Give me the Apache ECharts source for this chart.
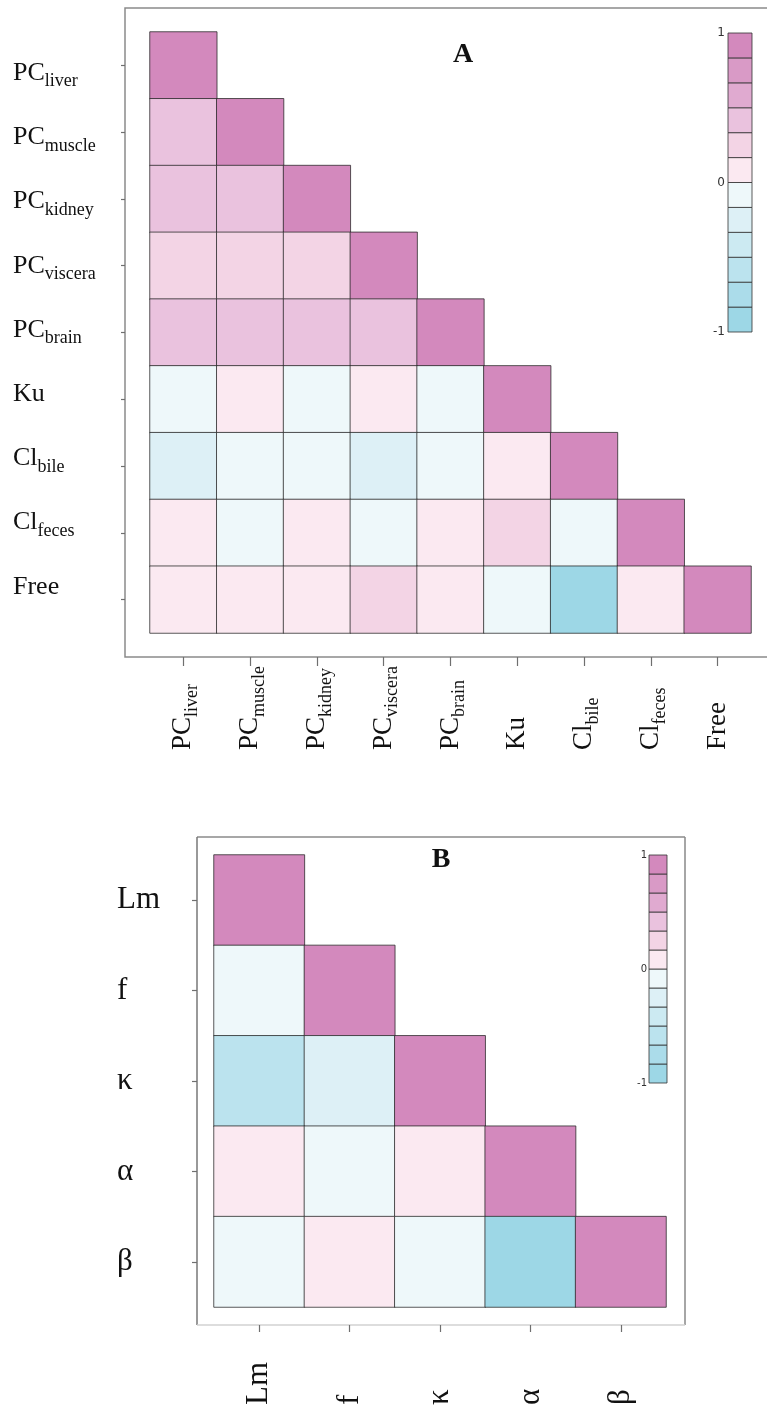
<!DOCTYPE html>
<html>
<head>
<meta charset="utf-8">
<script src="https://cdn.jsdelivr.net/npm/echarts@6/dist/echarts.min.js"></script>
<style>
html,body{margin:0;padding:0;background:#fff;}
#chart{width:767px;height:1408px;}
</style>
</head>
<body>
<div id="chart"></div>
<script>
// ---------- data ----------
const varsA = ['PC_liver', 'PC_muscle', 'PC_kidney', 'PC_viscera', 'PC_brain', 'Ku', 'Cl_bile', 'Cl_feces', 'Free'];
const varsB = ['Lm', 'f', 'κ', 'α', 'β'];

// lower-triangle correlation rows (row i, columns 0..i)
const corrA = [
  [1],
  [0.42, 1],
  [0.40, 0.38, 1],
  [0.25, 0.27, 0.24, 1],
  [0.40, 0.38, 0.36, 0.35, 1],
  [-0.08, 0.08, -0.07, 0.09, -0.06, 1],
  [-0.22, -0.10, -0.09, -0.20, -0.08, 0.10, 1],
  [0.10, -0.10, 0.08, -0.05, 0.07, 0.22, -0.10, 1],
  [0.07, 0.06, 0.08, 0.20, 0.06, -0.05, -0.88, 0.07, 1]
];
const corrB = [
  [1],
  [-0.08, 1],
  [-0.58, -0.25, 1],
  [0.10, -0.08, 0.10, 1],
  [-0.08, 0.10, -0.07, -0.90, 1]
];

// colour scale: 12 classes from -1 to 1 (bottom to top)
const scaleBreaks = [-1, -5/6, -4/6, -3/6, -2/6, -1/6, 0, 1/6, 2/6, 3/6, 4/6, 5/6, 1];
const scaleColors = ['#9dd7e6', '#abdcea', '#bbe3ee', '#cceaf2', '#ddf0f6', '#eef8fa',
                     '#fbe9f1', '#f3d4e5', '#eac2de', '#e0aad0', '#d99ac6', '#d389bd'];
const scaleTicks = [-1, 0, 1];

// ---------- helpers ----------
function triData(m) {
  const out = [];
  m.forEach((row, i) => row.forEach((v, j) => out.push([j, i, v])));
  return out;
}
const pieces = scaleColors.map((c, k) => {
  const p = { gte: scaleBreaks[k], color: c };
  if (k === scaleColors.length - 1) p.lte = scaleBreaks[k + 1]; else p.lt = scaleBreaks[k + 1];
  return p;
});
const legendData = scaleColors.map((c, k) => [scaleBreaks[k], scaleBreaks[k + 1], k]);

const SERIF = '"Liberation Serif", "Times New Roman", serif';
function subFmt(name) {
  const parts = name.split('_');
  return parts.length > 1 ? parts[0] + '{s|' + parts[1] + '}' : name;
}
function labelStyle(size, subSize, lh) {
  return {
    fontFamily: SERIF, fontSize: size, color: '#111', lineHeight: lh,
    formatter: subFmt,
    rich: { s: { fontFamily: SERIF, fontSize: subSize, lineHeight: subSize, verticalAlign: 'bottom', color: '#111' } }
  };
}
const hidden = { show: false };
const tickGray = '#6f6f6f';

function legendRender(params, api) {
  const p1 = api.coord([0, api.value(1)]);
  const p2 = api.coord([1, api.value(0)]);
  return {
    type: 'rect',
    shape: { x: p1[0], y: p1[1], width: p2[0] - p1[0], height: p2[1] - p1[1] },
    style: { fill: scaleColors[api.value(2)], stroke: 'rgba(50,50,50,0.8)', lineWidth: 1 }
  };
}

const chart = echarts.init(document.getElementById('chart'), null, { renderer: 'canvas' });
const option = {
  backgroundColor: '#fff',
  animation: false,
  grid: [
    { left: 150, top: 32, width: 601, height: 601 },   // 0 heatmap A
    { left: 214, top: 855, width: 452, height: 452 },  // 1 heatmap B
    { left: 150, top: 41, width: 10, height: 578 },    // 2 y labels A
    { left: 728, top: 33, width: 24, height: 299 },    // 3 scale A
    { left: 649, top: 855, width: 18, height: 228 }    // 4 scale B
  ],
  xAxis: [
    {
      type: 'category', gridIndex: 0, data: varsA, offset: 24,
      axisLine: hidden,
      axisTick: { show: true, alignWithLabel: true, length: 9, lineStyle: { color: tickGray, width: 1.2 } },
      axisLabel: Object.assign(labelStyle(27, 18, 36), { rotate: 90, align: 'left', margin: 93, interval: 0 }),
      splitLine: hidden
    },
    {
      type: 'category', gridIndex: 1, data: varsB, offset: 18,
      axisLine: hidden,
      axisTick: { show: true, alignWithLabel: true, length: 7, lineStyle: { color: tickGray, width: 1.2 } },
      axisLabel: Object.assign(labelStyle(31, 20, 36), { rotate: 90, align: 'left', margin: 80, interval: 0 }),
      splitLine: hidden
    },
    { type: 'value', gridIndex: 2, show: false, min: 0, max: 1 },
    { type: 'value', gridIndex: 3, show: false, min: 0, max: 1 },
    { type: 'value', gridIndex: 4, show: false, min: 0, max: 1 }
  ],
  yAxis: [
    {
      type: 'category', gridIndex: 0, data: varsA, inverse: true, offset: 25,
      axisLine: hidden,
      axisTick: { show: true, alignWithLabel: true, length: 4, lineStyle: { color: tickGray, width: 1.2 } },
      axisLabel: hidden, splitLine: hidden
    },
    {
      type: 'category', gridIndex: 1, data: varsB, inverse: true, offset: 17,
      axisLine: hidden,
      axisTick: { show: true, alignWithLabel: true, length: 5, lineStyle: { color: tickGray, width: 1.2 } },
      axisLabel: Object.assign(labelStyle(31, 20, 36), { align: 'left', margin: 80, interval: 0 }),
      splitLine: hidden
    },
    {
      type: 'category', gridIndex: 2, data: varsA, inverse: true,
      axisLine: hidden, axisTick: hidden, splitLine: hidden,
      axisLabel: Object.assign(labelStyle(26, 18, 35), { align: 'left', margin: 137, interval: 0 })
    },
    {
      type: 'value', gridIndex: 3, min: -1, max: 1, interval: 1,
      axisLine: hidden, axisTick: hidden, splitLine: hidden,
      axisLabel: { fontFamily: '"DejaVu Sans", sans-serif', fontSize: 12, color: '#333', margin: 3 }
    },
    {
      type: 'value', gridIndex: 4, min: -1, max: 1, interval: 1,
      axisLine: hidden, axisTick: hidden, splitLine: hidden,
      axisLabel: { fontFamily: '"DejaVu Sans", sans-serif', fontSize: 10, color: '#333', margin: 2 }
    }
  ],
  visualMap: {
    type: 'piecewise', show: false, dimension: 2, seriesIndex: [0, 1], pieces: pieces
  },
  series: [
    {
      type: 'heatmap', xAxisIndex: 0, yAxisIndex: 0, data: triData(corrA),
      itemStyle: { borderColor: 'rgba(35,35,35,0.75)', borderWidth: 1 },
      emphasis: { disabled: true }, label: { show: false }
    },
    {
      type: 'heatmap', xAxisIndex: 1, yAxisIndex: 1, data: triData(corrB),
      itemStyle: { borderColor: 'rgba(35,35,35,0.75)', borderWidth: 1 },
      emphasis: { disabled: true }, label: { show: false }
    },
    { type: 'custom', xAxisIndex: 3, yAxisIndex: 3, data: legendData, renderItem: legendRender, silent: true },
    { type: 'custom', xAxisIndex: 4, yAxisIndex: 4, data: legendData, renderItem: legendRender, silent: true }
  ],
  graphic: [
    { type: 'rect', silent: true, z: -1, shape: { x: 125, y: 8, width: 700, height: 649 },
      style: { fill: 'none', stroke: '#8a8a8a', lineWidth: 1.5 } },
    { type: 'line', silent: true, shape: { x1: 197, y1: 837, x2: 685, y2: 837 }, style: { stroke: '#8a8a8a', lineWidth: 1.5 } },
    { type: 'line', silent: true, shape: { x1: 197, y1: 837, x2: 197, y2: 1325 }, style: { stroke: '#777', lineWidth: 1.5 } },
    { type: 'line', silent: true, shape: { x1: 685, y1: 837, x2: 685, y2: 1325 }, style: { stroke: '#888', lineWidth: 1.5 } },
    { type: 'line', silent: true, shape: { x1: 197, y1: 1325, x2: 685, y2: 1325 }, style: { stroke: '#d2d2d2', lineWidth: 1.5 } },
    { type: 'text', x: 463, y: 55, style: { text: 'A', font: 'bold 28px "Liberation Serif", serif', fill: '#111',
      textAlign: 'center', align: 'center', textVerticalAlign: 'middle', verticalAlign: 'middle' } },
    { type: 'text', x: 441, y: 860, style: { text: 'B', font: 'bold 28px "Liberation Serif", serif', fill: '#111',
      textAlign: 'center', align: 'center', textVerticalAlign: 'middle', verticalAlign: 'middle' } }
  ]
};
chart.setOption(option);
</script>
</body>
</html>
